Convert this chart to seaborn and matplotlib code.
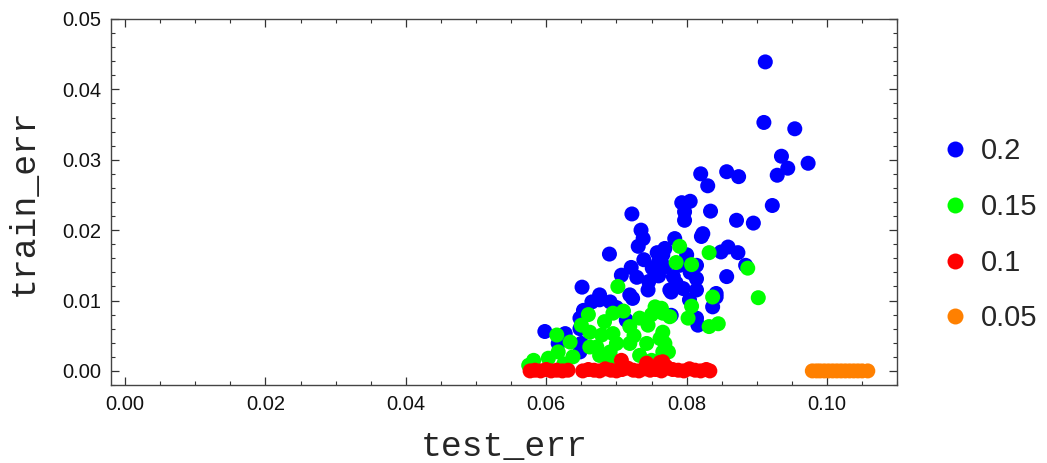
import numpy as np
import pandas as pd
import matplotlib
matplotlib.use("Agg")
import matplotlib.pyplot as plt
from matplotlib.ticker import MultipleLocator, FormatStrFormatter
import seaborn as sns

# ---- data ----
blue_x = [0.0912, 0.0910, 0.0954, 0.0935, 0.0944, 0.0973, 0.0929, 0.0820, 0.0830, 0.0857,
          0.0874, 0.0922, 0.0793, 0.0805, 0.0834, 0.0722,
          0.0735, 0.0738, 0.0731, 0.0690, 0.0739, 0.0758, 0.0769, 0.0751, 0.0721, 0.0707,
          0.0729, 0.0746, 0.0651, 0.0676, 0.0719,
          0.0797, 0.0797, 0.0871, 0.0895, 0.0823, 0.0821, 0.0783, 0.0766, 0.0800, 0.0814,
          0.0769, 0.0849, 0.0859, 0.0873, 0.0884, 0.0857, 0.0814, 0.0781, 0.0776, 0.0795,
          0.0814, 0.0842,
          0.0676, 0.0691, 0.0665, 0.0723, 0.0653, 0.0648, 0.0648, 0.0598, 0.0627, 0.0617,
          0.0714, 0.0745,
          0.0778, 0.0842, 0.0837, 0.0804, 0.0778, 0.0814, 0.0816,
          0.0648, 0.0650, 0.0700, 0.0760, 0.0790, 0.0805, 0.0760, 0.0785]
blue_y = [0.0439, 0.0353, 0.0344, 0.0305, 0.0288, 0.0295, 0.0278, 0.0280, 0.0263, 0.0283,
          0.0276, 0.0235, 0.0239, 0.0241, 0.0227, 0.0223,
          0.0200, 0.0188, 0.0177, 0.0166, 0.0158, 0.0168, 0.0174, 0.0146, 0.0147, 0.0136,
          0.0133, 0.0127, 0.0119, 0.0108, 0.0108,
          0.0226, 0.0214, 0.0214, 0.0210, 0.0195, 0.0191, 0.0188, 0.0165, 0.0165, 0.0150,
          0.0148, 0.0169, 0.0176, 0.0168, 0.0150, 0.0134, 0.0131, 0.0134, 0.0115, 0.0117,
          0.0115, 0.0110,
          0.0101, 0.0098, 0.0098, 0.0103, 0.0086, 0.0075, 0.0060, 0.0056, 0.0053, 0.0039,
          0.0072, 0.0115,
          0.0112, 0.0105, 0.0091, 0.0101, 0.0079, 0.0075, 0.0065,
          0.0027, 0.0039, 0.0090, 0.0135, 0.0150, 0.0140, 0.0155, 0.0125]

green_x = [0.0702, 0.0790, 0.0832, 0.0785, 0.0807, 0.0887, 0.0837, 0.0902,
           0.0660, 0.0695, 0.0683, 0.0615, 0.0634, 0.0662, 0.0662, 0.0679, 0.0695, 0.0719,
           0.0733, 0.0745, 0.0755, 0.0766, 0.0700, 0.0719, 0.0743, 0.0762, 0.0582, 0.0603,
           0.0617, 0.0638, 0.0676, 0.0691, 0.0733, 0.0766, 0.0672,
           0.0807, 0.0776, 0.0802, 0.0832, 0.0845, 0.0764, 0.0766, 0.0769, 0.0774,
           0.0575, 0.0710, 0.0725, 0.0750, 0.0650, 0.0690, 0.0750, 0.0625]
green_y = [0.0120, 0.0177, 0.0168, 0.0154, 0.0151, 0.0146, 0.0105, 0.0104,
           0.0080, 0.0082, 0.0070, 0.0051, 0.0041, 0.0055, 0.0034, 0.0051, 0.0053, 0.0063,
           0.0075, 0.0065, 0.0091, 0.0082, 0.0039, 0.0039, 0.0039, 0.0046, 0.0015, 0.0018,
           0.0027, 0.0020, 0.0022, 0.0027, 0.0022, 0.0027, 0.0034,
           0.0092, 0.0077, 0.0075, 0.0063, 0.0067, 0.0089, 0.0055, 0.0039, 0.0027,
           0.0008, 0.0085, 0.0050, 0.0080, 0.0065, 0.0010, 0.0015, 0.0010]

red_x = [0.0577, 0.0584, 0.0592, 0.0600, 0.0607, 0.0615, 0.0623, 0.0631,
         0.0652, 0.0660, 0.0668, 0.0676, 0.0684, 0.0692, 0.0700, 0.0708, 0.0716, 0.0724,
         0.0732, 0.0740, 0.0748, 0.0756, 0.0764, 0.0772, 0.0780, 0.0788, 0.0796, 0.0804,
         0.0812, 0.0820, 0.0828, 0.0833,
         0.0707, 0.0743, 0.0762, 0.0766, 0.0771]
red_y = [0.0000, 0.0001, 0.0000, 0.0002, 0.0000, 0.0001, 0.0000, 0.0001,
         0.0000, 0.0002, 0.0001, 0.0000, 0.0003, 0.0001, 0.0000, 0.0002, 0.0004, 0.0001,
         0.0000, 0.0003, 0.0001, 0.0002, 0.0000, 0.0004, 0.0002, 0.0001, 0.0000, 0.0003,
         0.0001, 0.0000, 0.0002, 0.0000,
         0.0015, 0.0011, 0.0012, 0.0013, 0.0006]

orange_x = [0.0979, 0.0985, 0.0990, 0.0996, 0.1002, 0.1008, 0.1014, 0.1020, 0.1026,
            0.1032, 0.1038, 0.1044, 0.1050, 0.1058]
orange_y = [0.0000, 0.0000, 0.0000, 0.0000, 0.0000, 0.0000, 0.0000, 0.0000, 0.0000,
            0.0000, 0.0000, 0.0000, 0.0000, 0.0000]

series_labels = ["0.2", "0.15", "0.1", "0.05"]
series_colors = ["#0000ff", "#00ff00", "#ff0000", "#ff8000"]

frames = []
for lab, xs, ys in zip(series_labels,
                       [blue_x, green_x, red_x, orange_x],
                       [blue_y, green_y, red_y, orange_y]):
    frames.append(pd.DataFrame({"test_err": xs, "train_err": ys, "rate": lab}))
df = pd.concat(frames, ignore_index=True)

# ---- plotting ----
sns.set_style("ticks")
plt.rcParams["font.family"] = ["Liberation Sans", "DejaVu Sans"]

fig = plt.figure(figsize=(10.47, 4.63), dpi=100)
ax = fig.add_axes([0.106, 0.1685, 0.751, 0.7905])

sns.scatterplot(data=df, x="test_err", y="train_err", hue="rate",
                hue_order=series_labels,
                palette=dict(zip(series_labels, series_colors)),
                s=117, linewidth=0, ax=ax)

ax.set_xlim(-0.002, 0.110)
ax.set_ylim(-0.002, 0.050)
ax.xaxis.set_major_locator(MultipleLocator(0.02))
ax.xaxis.set_minor_locator(MultipleLocator(0.005))
ax.yaxis.set_major_locator(MultipleLocator(0.01))
ax.yaxis.set_minor_locator(MultipleLocator(0.002))
ax.xaxis.set_major_formatter(FormatStrFormatter("%.2f"))
ax.yaxis.set_major_formatter(FormatStrFormatter("%.2f"))
ax.tick_params(which="both", direction="in", top=True, right=True,
               color="#333333", labelsize=14.5, labelcolor="#111111")
ax.tick_params(which="major", length=6, width=0.9, pad=7)
ax.tick_params(which="minor", length=3, width=0.8)
for sp in ax.spines.values():
    sp.set_visible(True)
    sp.set_color("#444444")
    sp.set_linewidth(1.0)

mono = ["Liberation Mono", "DejaVu Sans Mono"]
ax.set_xlabel("test_err", fontsize=25, family=mono, labelpad=12)
ax.set_ylabel("train_err", fontsize=25, family=mono, labelpad=16)

leg = ax.legend(loc="center left", bbox_to_anchor=(1.055, 0.41), frameon=False,
                fontsize=21, labelspacing=0.95, handletextpad=0.4,
                handlelength=1.0, borderpad=0, borderaxespad=0)
for h in leg.legend_handles:
    try:
        h.set_markersize(11.5)
    except Exception:
        h.set_sizes([140])

fig.savefig("out.png", dpi=100)
